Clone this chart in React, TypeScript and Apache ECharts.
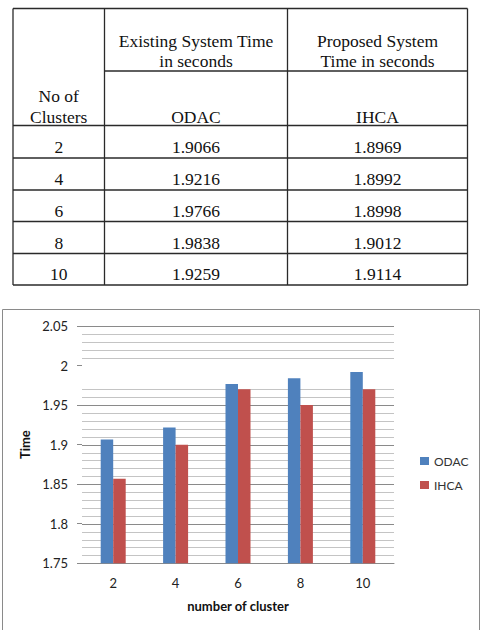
import React, { useEffect, useRef } from "react";
import * as echarts from "echarts";

// Table contents
const tableClusters = ["2", "4", "6", "8", "10"];
const tableOdac = ["1.9066", "1.9216", "1.9766", "1.9838", "1.9259"];
const tableIhca = ["1.8969", "1.8992", "1.8998", "1.9012", "1.9114"];

// Bar chart contents
const categories = ["2", "4", "6", "8", "10"];
const odacTimes = [1.9066, 1.9216, 1.9766, 1.9838, 1.992];
const ihcaTimes = [1.857, 1.9, 1.97, 1.95, 1.97];

// Horizontal rules of the plot (value-axis positions)
const gridValues = [
  1.75, 1.76, 1.77, 1.78, 1.79, 1.8, 1.81, 1.82, 1.83, 1.84, 1.85, 1.86, 1.87, 1.88,
  1.89, 1.9, 1.91, 1.92, 1.93, 1.94, 1.95, 1.96, 1.97, 2.01, 2.02, 2.03, 2.04, 2.05,
];

const SERIF = "'Liberation Serif', 'Times New Roman', serif";
const SANS = "Lato, 'Open Sans', sans-serif";

function buildTable(): any[] {
  const els: any[] = [];
  const colX = [13, 104.5, 287.5, 467.5];
  const top = 8.5;
  const headMid = 71;
  const rowY = [125.5, 158, 190, 221.5, 253.5, 285];
  const stroke = "#2a2a2a";
  const line = (x1: number, y1: number, x2: number, y2: number) =>
    els.push({
      type: "line",
      shape: { x1, y1, x2, y2 },
      style: { stroke, lineWidth: 1.3 },
    });
  colX.forEach((x) => line(x, top, x, rowY[rowY.length - 1]));
  line(colX[0], top, colX[3], top);
  line(colX[1], headMid, colX[3], headMid);
  rowY.forEach((y) => line(colX[0], y, colX[3], y));

  const font = `17.5px ${SERIF}`;
  const text = (t: string, x: number, y: number) =>
    els.push({
      type: "text",
      x,
      y,
      style: { text: t, font, fill: "#111", align: "center", verticalAlign: "middle" },
    });
  const c1 = (colX[0] + colX[1]) / 2;
  const c2 = (colX[1] + colX[2]) / 2;
  const c3 = (colX[2] + colX[3]) / 2;
  text("Existing System Time", c2, 41);
  text("in seconds", c2, 61);
  text("Proposed System", c3, 41);
  text("Time in seconds", c3, 61);
  text("No of", c1, 96);
  text("Clusters", c1, 116.5);
  text("ODAC", c2, 116.5);
  text("IHCA", c3, 116.5);
  tableClusters.forEach((c, i) => {
    const y = rowY[i + 1] - 11;
    text(c, c1, y);
    text(tableOdac[i], c2, y);
    text(tableIhca[i], c3, y);
  });
  return els;
}

export default function App() {
  const ref = useRef<HTMLDivElement>(null);
  useEffect(() => {
    if (!ref.current) return;
    const chart = echarts.init(ref.current, undefined, { renderer: "svg" });
    chart.setOption({
      animation: false,
      backgroundColor: "#ffffff",
      graphic: [
        ...buildTable(),
        {
          type: "rect",
          shape: { x: 2.5, y: 309.5, width: 477, height: 340 },
          style: { fill: "none", stroke: "#8a8a8a", lineWidth: 1 },
          z: -1,
        },
      ],
      grid: { left: 82, top: 326, width: 312, height: 237.3 },
      legend: {
        data: ["ODAC", "IHCA"],
        orient: "vertical",
        left: 415,
        top: 450,
        icon: "rect",
        itemWidth: 9,
        itemHeight: 8,
        itemGap: 12,
        itemTextGap: 2,
        textStyle: { fontFamily: SANS, fontSize: 12, color: "#333" },
      },
      xAxis: {
        type: "category",
        data: categories,
        axisLine: { lineStyle: { color: "#8a8a8a" } },
        axisTick: { show: false },
        axisLabel: { margin: 13, fontFamily: SANS, fontSize: 13, color: "#222" },
        name: "number of cluster",
        nameLocation: "middle",
        nameGap: 36,
        nameTextStyle: { fontFamily: SANS, fontSize: 13, fontWeight: "bold", color: "#111" },
      },
      yAxis: {
        type: "value",
        min: 1.75,
        max: 2.05,
        interval: 0.05,
        axisLine: { show: false },
        axisTick: { show: true, length: 5, lineStyle: { color: "#8a8a8a" } },
        axisLabel: {
          margin: 14,
          fontFamily: SANS,
          fontSize: 13,
          color: "#222",
          formatter: (v: number) => String(+v.toFixed(2)),
        },
        splitLine: { show: false },
        name: "Time",
        nameLocation: "middle",
        nameGap: 42,
        nameRotate: 90,
        nameTextStyle: { fontFamily: SANS, fontSize: 13, fontWeight: "bold", color: "#111" },
      },
      series: [
        {
          type: "custom",
          silent: true,
          z: 0,
          data: gridValues.map((v) => [0, v]),
          encode: { x: 0, y: 1 },
          renderItem: (params: any, api: any) => {
            const v = api.value(1) as number;
            const y = Math.round(api.coord([0, v])[1]) + 0.5;
            const cs = params.coordSys;
            const major = Math.round(v * 100) % 5 === 0;
            return {
              type: "line",
              shape: { x1: cs.x, y1: y, x2: cs.x + cs.width, y2: y },
              style: { stroke: major ? "#8a8a8a" : "#c4c4c4", lineWidth: 1 },
            };
          },
        },
        {
          name: "ODAC",
          type: "bar",
          data: odacTimes,
          barWidth: 12.5,
          barGap: "0%",
          z: 2,
          itemStyle: { color: "#4F81BD" },
        },
        {
          name: "IHCA",
          type: "bar",
          data: ihcaTimes,
          barWidth: 12.5,
          barGap: "0%",
          z: 2,
          itemStyle: { color: "#C0504D" },
        },
      ],
    });
    return () => chart.dispose();
  }, []);
  return (
    <div
      ref={ref}
      style={{ position: "fixed", left: 0, top: 0, width: 484, height: 630 }}
    />
  );
}
